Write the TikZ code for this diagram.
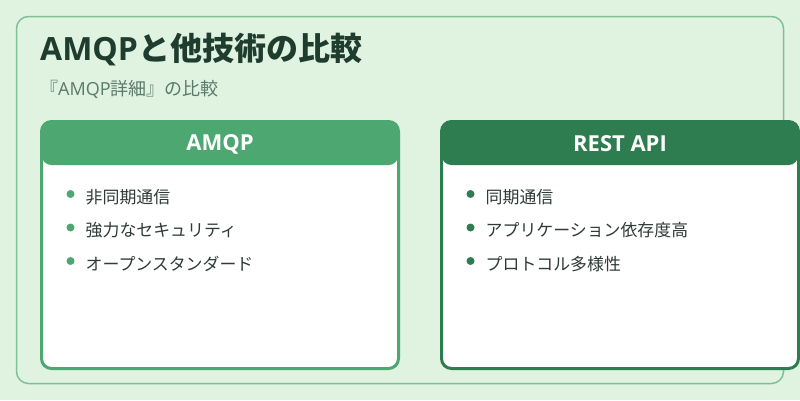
\documentclass[tikz,border=0pt]{standalone}
\usepackage{fontspec}
\setmainfont{Noto Sans CJK JP}
\newfontfamily\latinf{Open Sans}
\definecolor{bg}{HTML}{E0F2E0}
\definecolor{panelline}{HTML}{80C096}
\definecolor{hdrA}{HTML}{4CA870}
\definecolor{hdrB}{HTML}{2E7D50}
\definecolor{titlec}{HTML}{1E3D2F}
\definecolor{subc}{HTML}{5A7A6A}
\definecolor{itemc}{HTML}{2F3B35}
\begin{document}
\begin{tikzpicture}[x=1pt,y=-1pt,
  panel/.style={draw=panelline, line width=1.5pt, rounded corners=12pt, minimum width=767pt, minimum height=367pt, inner sep=0pt},
  card/.style={draw=#1, fill=white, line width=3pt, rounded corners=10pt, minimum width=357pt, minimum height=247pt, inner sep=0pt,
    path picture={\fill[#1] (path picture bounding box.north west) rectangle ([yshift=-43.5pt]path picture bounding box.north east);}},
  hdrtext/.style={text=white, font=\latinf\bfseries\fontsize{22}{24}\selectfont, inner sep=0pt, anchor=base},
  dot/.style={circle, fill=#1, minimum size=8pt, inner sep=0pt},
  item/.style={text=itemc, font=\fontsize{16.9}{20}\selectfont, inner sep=0pt, anchor=base west}
]
\fill[bg] (0,0) rectangle (800,400);
\useasboundingbox (0,0) rectangle (800,400);
\node[panel] (panel) at (400,200) {};
\node[text=titlec, font=\bfseries\fontsize{32}{36}\selectfont, inner sep=0pt, anchor=base west] (title) at (40,60) {{\latinf\bfseries AMQP}と他技術の比較};
\node[text=subc, font=\fontsize{18}{20}\selectfont, inner sep=0pt, anchor=base west] (sub) at (40,95.5) {『{\latinf AMQP}詳細』の比較};

\node[card=hdrA] (cardA) at (220,245) {};
\node[card=hdrB] (cardB) at (620,245) {};
\node[hdrtext] (hA) at (220,150) {AMQP};
\node[hdrtext] (hB) at (620,151.5) {REST API};

\node[dot=hdrA] (a1d) at (70.5,194) {};
\node[dot=hdrA] (a2d) at (70.5,227.5) {};
\node[dot=hdrA] (a3d) at (70.5,261) {};
\node[item] (a1) at (85.5,203) {非同期通信};
\node[item] (a2) at (85.5,236.5) {強力なセキュリティ};
\node[item] (a3) at (85.5,270) {オープンスタンダード};

\node[dot=hdrB] (b1d) at (470.5,194) {};
\node[dot=hdrB] (b2d) at (470.5,227.5) {};
\node[dot=hdrB] (b3d) at (470.5,261) {};
\node[item] (b1) at (485.5,203) {同期通信};
\node[item] (b2) at (485.5,236.5) {アプリケーション依存度高};
\node[item] (b3) at (485.5,270) {プロトコル多様性};
\end{tikzpicture}
\end{document}
